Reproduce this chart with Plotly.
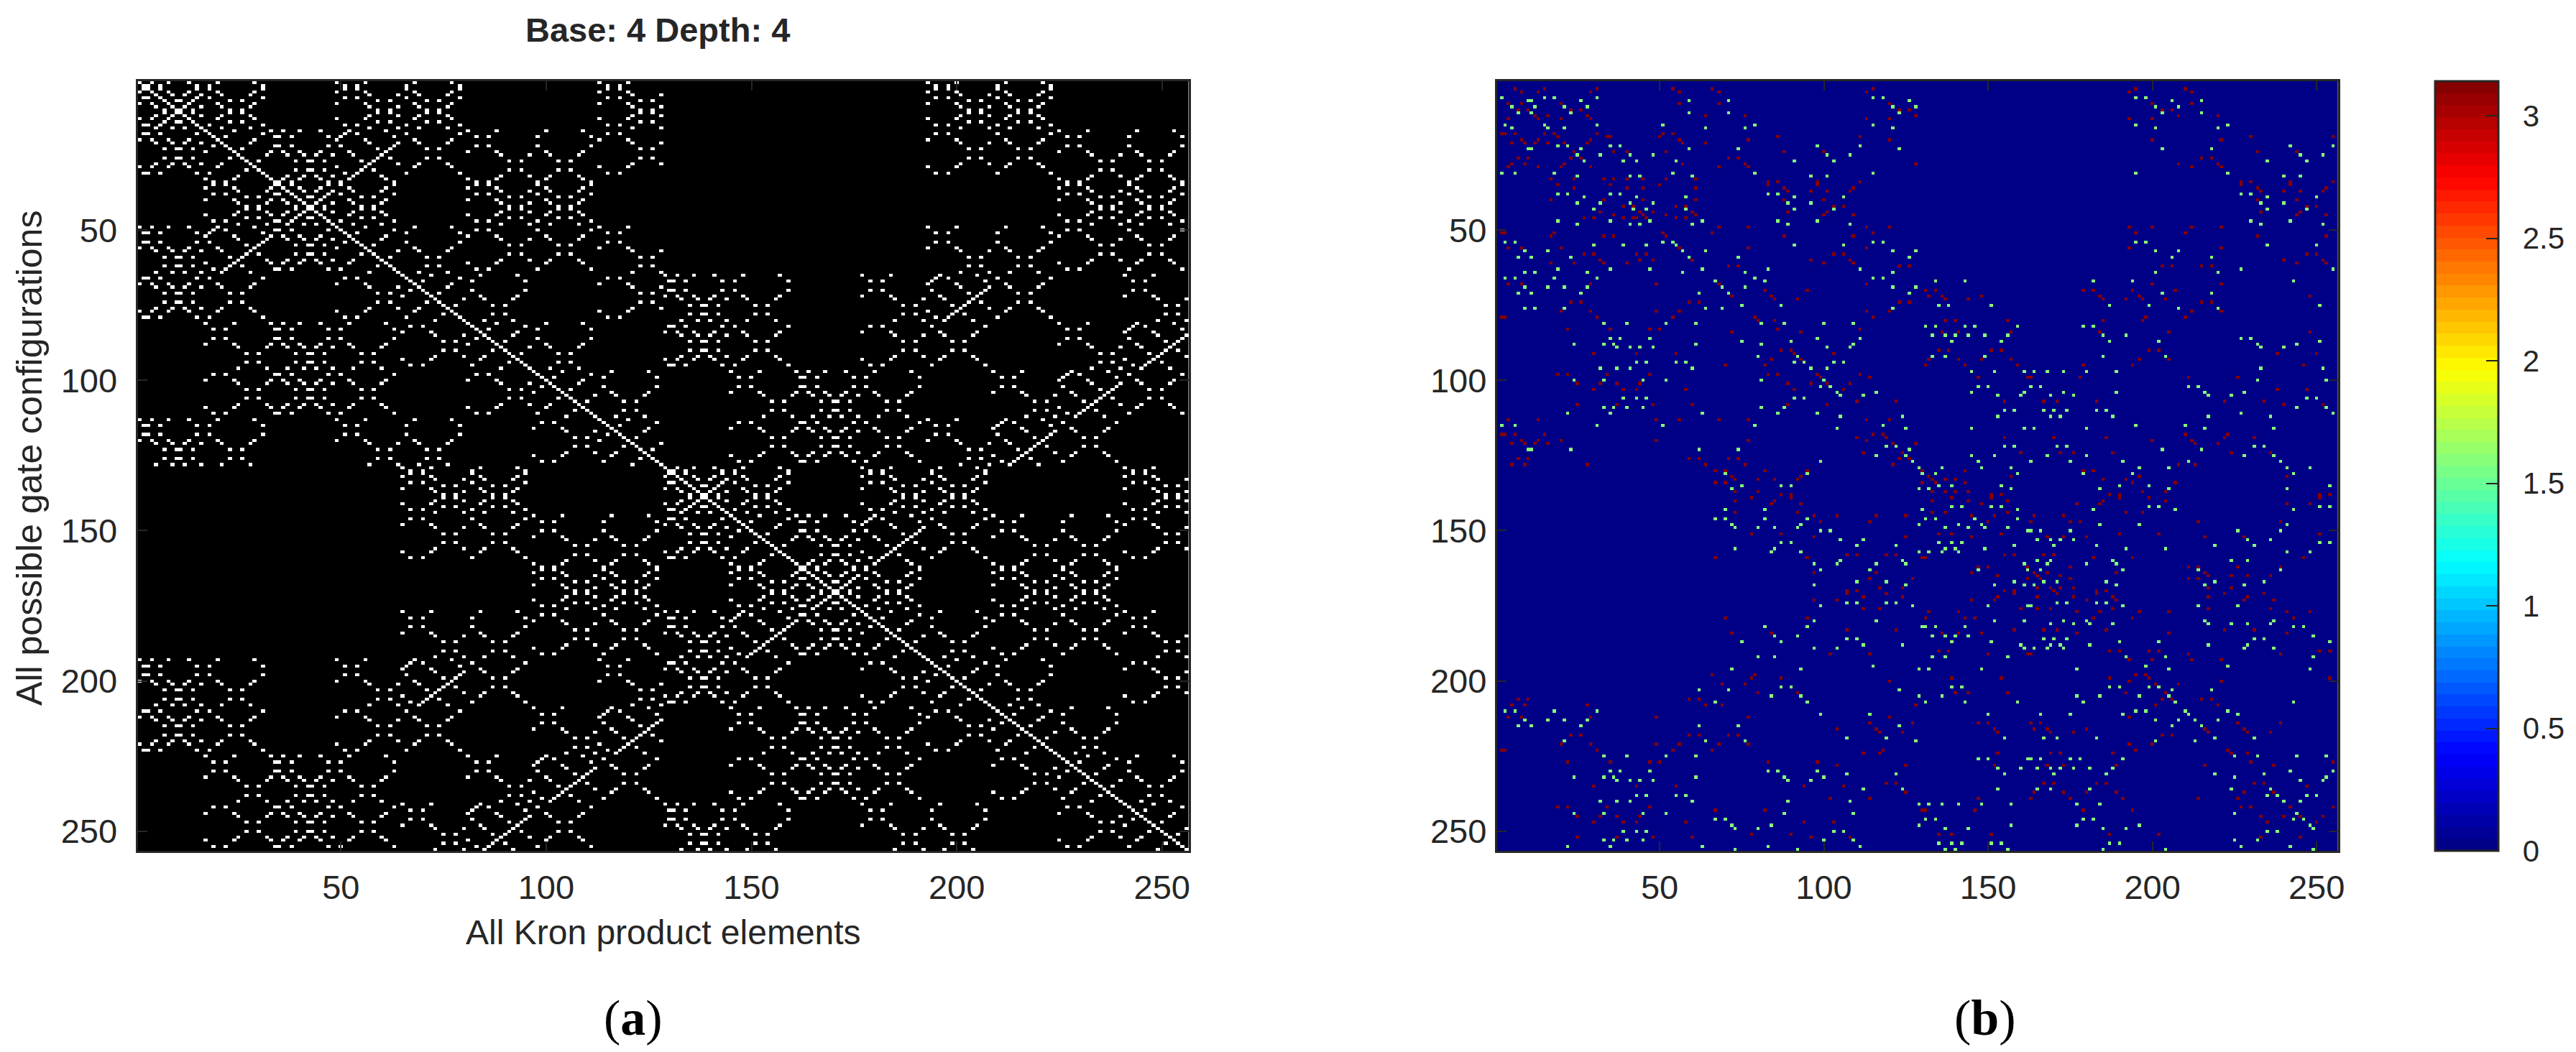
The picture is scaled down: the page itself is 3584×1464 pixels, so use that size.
import math
import plotly.graph_objects as go

# ---- Panel (a): non-zero columns, one list per kind of row
cols_p = [1,4,8,13,20,29,49,56,68,77,113,120,193,200,212,221]
cols_q = [2,3,6,15,18,31,51,54,66,79,115,118,195,198,210,223]
cols_s = [5,9,12,16,21,28,57,64,69,76,121,128,201,208,213,220]
cols_t = [7,10,11,14,23,26,59,62,71,74,123,126,203,206,215,218]
cols_w = [17,24,33,36,40,45,52,61,81,88,100,109,225,232,244,253]
cols_x = [19,22,34,35,38,47,50,63,83,86,98,111,227,230,242,255]
cols_y = [25,32,37,41,44,48,53,60,89,96,101,108,233,240,245,252]
cols_z = [27,30,39,42,43,46,55,58,91,94,103,106,235,238,247,250]
cols_a = [65,72,84,93,129,132,136,141,148,157,177,184,196,205,241,248]
cols_b = [67,70,82,95,130,131,134,143,146,159,179,182,194,207,243,246]
cols_c = [73,80,85,92,133,137,140,144,149,156,185,192,197,204,249,256]
cols_d = [75,78,87,90,135,138,139,142,151,154,187,190,199,202,251,254]
cols_e = [97,104,116,125,145,152,161,164,168,173,180,189,209,216,228,237]
cols_f = [99,102,114,127,147,150,162,163,166,175,178,191,211,214,226,239]
cols_g = [105,112,117,124,153,160,165,169,172,176,181,188,217,224,229,236]
cols_h = [107,110,119,122,155,158,167,170,171,174,183,186,219,222,231,234]
row_kinds = [
    "pqqpsqtpsttsptqs", "wqxpsxtwytzspzqy", "wxxwyxzwyzzywzxy", "pxqwyqzpsztywtxs",
    "aqbpsbtactdspdqc", "wbxacxdwydzcazby", "exfwyfzegzhywhxg", "pfqegqhpshtgetfs",
    "abbacbdacddcadbc", "ebfacfdegdhcahbg", "effegfheghhgehfg", "afbegbhachdgedfc",
    "pbqacqdpsdtcatbs", "eqfpsftegthsphqg", "wfxegxhwyhzgezfy", "axbwybzaczdywdxc",
]

# ---- Panel (b): (row, columns) holding each of the two phase values
green_top = [
 (6,[2,15,18,31,115,118,195,198]),(7,[10,11,26,59,71,126,206,215]),(9,[5,12,21,28,121,128,201,208]),
 (11,[7,11,23,59,71,123,203,215]),(15,[3,15,31,51,79,115,195,223]),(16,[5,16,21,64,76,121,201,220]),
 (22,[19,22,35,38,98,111,242,255]),(23,[10,11,26,59,74,123,203,218]),(25,[25,32,41,48,101,108,245,252]),
 (27,[27,39,43,55,91,103,235,247]),(31,[2,6,18,54,79,115,195,223]),(32,[25,41,44,60,96,101,240,245]),
 (38,[19,22,35,38,83,86,227,230]),(39,[27,43,58,91,106,235,250]),(41,[25,32,41,48,89,96,233,240]),
 (43,[30,42,46,58,91,103,235,247]),(47,[19,35,47,63,86,98,230,242]),(48,[25,41,44,60,89,108,233,252]),
 (54,[3,6,51,54,115,118,195,198]),(55,[30,39,46,55,91,106,235,250]),(57,[9,16,57,64,121,128,201,208]),
 (59,[7,11,23,59,74,126,206,218]),(63,[19,35,47,63,83,111,227,255]),(64,[9,12,28,57,76,121,201,220]),
 (66,[3,6,18,31,79,115,118]),(67,[67,82,134,143,182,194,243]),(69,[9,16,21,28,69,76,121,128]),
 (71,[7,11,26,62,71,126,203,218]),(75,[75,87,135,138,151,187,199,251]),(76,[9,12,21,64,69,121,208,220]),
 (81,[33,40,52,61,81,88,100,109]),(82,[131,134,143,146,159,179,182]),(85,[133,137,140,144,149,156,185,192]),
 (86,[35,38,47,98,111,227,230]),(87,[75,90,139,154,187,202,251]),(88,[24,33,36,61,81,109,232,244]),
 (89,[37,41,44,48,101,108,233,240]),(92,[80,92,133,137,149,185,204]),(94,[43,46,55,58,91,94,103,106]),
 (96,[32,37,41,60,96,101,233,252]),(97,[145,152,161,164,168,173,180,189]),(100,[24,33,45,52,81,100,232,253]),
 (102,[99,102,147,150,163,166,211,214]),(104,[104,116,145,161,173,189,216,228]),(105,[105,112,153,160,169,176,217,224]),
 (106,[39,43,46,91,94,247,250]),(109,[33,36,40,45,81,88,244,253]),(110,[155,158,167,170,174,183,186]),
 (111,[22,35,63,86,98,227,255]),(112,[105,124,153,169,172,188,217,236]),(115,[2,6,31,51,79,118,195,210]),
 (116,[104,125,145,161,164,180,216,237]),(122,[119,122,155,158,171,174,231,234]),(123,[10,11,23,62,74,126,203,215]),
 (125,[116,125,145,152,168,180,228,237]),(127,[99,127,147,163,175,191,211,239]),
]
green_bottom = [
 (129,[129,136,148,157,196,205,241,248]),(131,[70,95,130,134,159,179,194,243]),(135,[75,87,90,135,139,154,190,199,254]),
 (136,[72,129,132,157,184,205,241]),(142,[139,142,151,154,199,202,251,254]),(143,[70,82,130,159,182,207,243]),
 (146,[67,70,82,95,131,134,146,159]),(148,[72,93,129,141,148,184,196,241]),(149,[73,80,85,92,137,144,149,156]),
 (150,[99,102,162,163,166,175,226,239]),(153,[105,112,165,169,172,176,229,236]),(154,[87,90,135,139,142,251,254]),
 (155,[110,122,158,170,183,219,231]),(156,[73,85,137,140,149,192,204]),(157,[84,93,129,132,136,141,241,248]),
 (160,[105,124,165,169,188,224,229]),(161,[97,104,116,125,161,168,180,189]),(163,[99,114,147,162,166,191,214,239]),
 (167,[110,119,158,167,171,186,219,234]),(168,[97,125,152,161,164,189,216,228]),(174,[107,110,119,122,171,174,183,186]),
 (175,[99,127,150,162,163,191,214,226]),(180,[97,116,152,161,173,180,216,237]),(181,[169,176,181,188,217,224,229,236]),
 (182,[82,95,130,131,134,143,243,246]),(185,[85,92,133,137,140,144,249]),(186,[107,110,167,170,174,231,234]),
 (187,[75,87,139,151,190,202,254]),(188,[112,124,160,169,172,181,217,229]),(189,[97,104,161,164,168,173,228,237]),
 (192,[80,85,133,137,156,192,204,249]),(195,[115,198,223]),(196,[72,93,129,132,148,177,205,248]),
 (202,[87,90,139,142,187,190,199,202]),(203,[62,71,123,206,218]),(205,[84,93,129,136,177,184,196,205]),
 (207,[67,95,131,143,159,179,207,243]),(210,[3,6,18,31,195,198,210,223]),(211,[99,114,150,166,175,191,211,226]),
 (213,[9,16,21,28,201,208,213,220]),(215,[7,11,26,62,74,123,206,215]),(219,[107,119,155,167,171,183,219,231]),
 (220,[21,64,76,128,201,213]),(225,[33,40,52,61,225,232,244,253]),(226,[147,150,162,163,166,175,178,191]),
 (229,[153,160,165,169,172,176,181,188]),(230,[35,38,47,83,86,98,242,255]),(231,[107,122,155,170,186,219,234]),
 (232,[24,33,36,61,88,100,225,253]),(233,[37,41,44,48,89,96,245,252]),(236,[112,124,153,165,169,181,224,236]),
 (238,[43,46,55,58,235,238,247,250]),(240,[32,37,41,60,89,108,240,245]),(241,[129,132,136,141,148,157,177,184]),
 (244,[24,33,45,52,88,109,225,244]),(246,[67,70,131,134,179,182,243,246]),(248,[72,84,129,157,177,196,248]),
 (249,[73,80,137,144,185,192,249]),(250,[39,43,46,103,106,235,238]),(253,[33,36,40,45,100,109,225,232]),
 (254,[135,139,142,151,154,187,190]),(255,[22,35,63,83,111,227,242]),(256,[73,92,137,140,156,185,204,249]),
]
red_top = [
 (3,[6,15,31,54,66,115,195,210]),(4,[8,13,29,56,68,113,193,212]),(8,[4,8,20,56,68,120,200,212]),
 (10,[7,10,23,26,123,126,203,206]),(12,[12,16,28,64,76,128,208,220]),(13,[4,13,20,29,113,120,193,200]),
 (18,[2,3,6,15,18,31,51,54]),(19,[19,34,35,50,86,111,230,255]),(20,[8,13,29,56,77,120,200,221]),
 (21,[5,9,12,16,21,28,57,64]),(24,[24,36,40,52,88,100,232,244]),(26,[7,10,23,26,71,74,215,218]),
 (28,[5,9,21,57,76,128,208,220]),(29,[4,13,20,29,68,77,212,221]),(33,[17,24,33,36,40,45,52,61]),
 (34,[83,86,98,111,227,230,242,255]),(35,[19,35,50,83,98,227,242]),(36,[24,40,45,61,88,109,232,253]),
 (37,[89,96,101,108,233,240,245,252]),(40,[17,33,45,61,88,100,232,244]),(42,[39,42,55,58,103,106,247,250]),
 (44,[32,44,48,60,89,101,233,245]),(45,[36,45,52,61,100,109,244,253]),(46,[27,30,39,42,43,46,55,58]),
 (49,[68,77,113,120,193,200,212,221]),(51,[2,3,18,51,66,115,195,210]),(52,[17,33,36,52,88,109,232,253]),
 (56,[4,8,20,56,77,113,193,221]),(58,[27,30,43,46,103,106,247,250]),(60,[32,44,48,60,96,108,240,252]),
 (61,[17,24,33,40,100,109,244,253]),(62,[71,74,123,126,203,206,215,218]),(68,[4,8,29,49,68,113,200,221]),
 (70,[82,95,131,134,179,182,194,207]),(72,[72,84,132,136,148,184,196,248]),(73,[85,92,137,144,185,192,197,204]),
 (74,[23,26,59,62,123,126,215,218]),(77,[20,29,49,56,113,120,212,221]),(79,[2,3,31,54,79,115,198,210]),
 (80,[80,85,137,140,156,185,197]),(83,[22,35,47,50,86,111]),(84,[72,93,136,141,157,184,205,248]),
 (90,[87,90,135,138,151,154,199,202]),(91,[30,43,55,91,103,238,250]),(93,[84,93,132,141,148,157,196,205]),
 (95,[70,82,131,143,159,179,194,246]),(98,[19,22,34,47,83,86,98,111]),(99,[99,114,147,162,163,178,211,226]),
 (101,[25,32,37,44,89,96,101,108]),(103,[30,39,43,58,91,106,238,247]),(107,[110,122,155,167,171,183,222,234]),
 (108,[25,37,48,60,89,101,240,252]),(113,[4,13,49,56,68,77,113,120]),(118,[2,3,6,15,115,118,210,223]),
 (119,[110,119,155,170,186,222,231]),(120,[8,13,20,49,77,113,200,212]),(121,[5,9,12,16,121,128,213,220]),
 (124,[112,124,160,172,176,188,224,236]),(126,[7,10,59,62,71,74,123,126]),(128,[5,9,28,64,76,121,208,213]),
]
red_bottom = [
 (130,[67,70,82,95,130,143,179,182]),(132,[72,93,132,157,196,241]),(133,[73,80,85,92,133,137,140,185,192]),
 (134,[67,70,130,134,143,194,207]),(137,[73,80,133,137,140,144,197,204]),(138,[90,87,151,154,187,190,251,254]),
 (139,[78,90,139,151,190,199,251]),(140,[73,85,133,144,156,185,204]),(141,[84,93,148,177,184,241,248]),
 (144,[73,92,133,137,156,192,197]),(145,[97,104,116,125,145,152,164,173]),(147,[99,114,150,163,175,178,214,239]),
 (151,[78,87,135,139,154,190,202,251]),(152,[97,125,145,168,173,180,216,228]),(158,[107,110,119,122,155,158,167,170]),
 (159,[67,95,130,131,182,194,246]),(162,[147,150,162,175,211,214,226,239]),(164,[97,116,145,164,168,189,216]),
 (165,[153,165,172,217,224,229,236]),(166,[114,127,162,166,175,211,214]),(169,[117,124,165,169,172,176,217,224]),
 (170,[107,110,155,158,170,183,186]),(171,[107,119,158,171,183,222,234]),(172,[112,124,153,165,176,188,217,229]),
 (173,[97,104,145,152,180,189,228,237]),(176,[112,117,160,165,169,188,217,236]),(177,[132,141,177,184,196,205,241,248]),
 (179,[70,95,131,143,146,182,194,243]),(183,[107,122,158,167,171,186,222,231]),(184,[72,84,136,141,148,177,205,241]),
 (190,[135,138,187,190,199,202,251,254]),(191,[102,114,150,162,163,211,239]),(193,[193,200,212,221]),
 (198,[66,79,195,198]),(199,[78,87,139,154,187,199,254]),(200,[120,193,221]),(201,[69,76,201,208]),
 (204,[80,92,140,144,156,192,204]),(206,[7,10,59,62,203,206,215,218]),(208,[5,9,28,64,69,128,201,220]),
 (212,[4,8,29,49,77,120,193]),(214,[114,127,147,150,163,166,226,239]),(216,[104,116,152,164,168,180,216,228]),
 (217,[117,124,153,169,176,217,229,236]),(218,[23,26,59,62,71,74,203,206]),(221,[20,29,49,56,68,77,193,200]),
 (223,[2,3,31,54,66,118,195,223]),(224,[112,117,153,169,172,188,224,229]),(227,[22,35,47,50,83,98,230,255]),
 (228,[104,125,152,168,173,189,216,237]),(234,[119,122,167,170,183,186,231,234]),(235,[30,43,55,94,106,247]),
 (237,[125,164,173,180,189,228,237]),(239,[102,114,147,163,175,191,214,226]),(242,[19,22,34,47,227,230,242,255]),
 (243,[67,82,130,131,146,179,194]),(245,[25,32,37,44,233,240,245,252]),(247,[30,39,43,58,94,103,235,250]),
 (251,[78,90,135,139,151,187,202]),(252,[25,37,48,60,96,108,233,245]),
]
phase_green = math.pi / 2
phase_red = math.pi

tick_vals = [50, 100, 150, 200, 250]

# ---- Build matrices
kinds = dict(p=cols_p, q=cols_q, s=cols_s, t=cols_t, w=cols_w, x=cols_x, y=cols_y, z=cols_z,
             a=cols_a, b=cols_b, c=cols_c, d=cols_d, e=cols_e, f=cols_f, g=cols_g, h=cols_h)
row_list = [kinds[ch] for block in row_kinds for ch in block]
N = len(row_list)
axis_vals = list(range(1, N + 1))
mask = [[0] * N for _ in range(N)]
phase = [[0.0] * N for _ in range(N)]
for r, cols in enumerate(row_list):
    for c in cols:
        mask[r][c - 1] = 1

def place(rows, value):
    for row, cols in rows:
        allowed = row_list[row - 1]
        for c in cols:
            # panel (b) can only be set where panel (a) is white: correct reading slips
            nearest = min(allowed, key=lambda v: abs(v - c))
            phase[row - 1][nearest - 1] = value

place(green_top, phase_green); place(green_bottom, phase_green)
place(red_top, phase_red); place(red_bottom, phase_red)

# ---- Matlab-style 64-step jet
def jet(t):
    ch = lambda o: max(0.0, min(1.0, 1.5 - abs(4 * t - o)))
    return "rgb(%d,%d,%d)" % tuple(round(255 * ch(o)) for o in (3, 2, 1))
jet_scale = []
for i in range(64):
    col = jet((i + 0.5) / 64)
    jet_scale += [[i / 64, col], [(i + 1) / 64, col]]

# ---- Layout in pixels of the page; the page body adds an 8px margin
W, H = 3584, 1464
OFF = 8
AX_TOP, AX_BOT = 113, 1184
A_L, A_R = 192, 1658
B_L, B_R = 2088, 3261
INK = "#262626"
FONT = "Liberation Sans"
px = lambda v: (v - OFF) / W
py = lambda v: 1 - (v - OFF) / H

fig = go.Figure()
fig.add_trace(go.Heatmap(z=mask, x=axis_vals, y=axis_vals, xaxis="x", yaxis="y", zmin=0, zmax=1,
                         colorscale=[[0, "#000000"], [1, "#ffffff"]], showscale=False, hoverinfo="skip"))
fig.add_trace(go.Heatmap(z=phase, x=axis_vals, y=axis_vals, xaxis="x2", yaxis="y2", zmin=0, zmax=math.pi,
                         colorscale=jet_scale, hoverinfo="skip",
                         colorbar=dict(x=px(3397), xanchor="left", xpad=0, ypad=0,
                                       y=py(AX_BOT), yanchor="bottom", len=(AX_BOT - AX_TOP) / H, lenmode="fraction",
                                       thickness=88, thicknessmode="pixels", outlinecolor=INK, outlinewidth=3,
                                       tickmode="linear", tick0=0, dtick=0.5, tickprefix="\u00a0\u00a0",
                                       ticks="inside", ticklen=18, tickwidth=2, tickcolor=INK,
                                       tickfont=dict(family=FONT, size=42, color=INK))))

def axis(domain, standoff=None, **kw):
    d = dict(domain=domain, showgrid=False, zeroline=False, showline=True, linecolor=INK, linewidth=3,
             mirror="allticks", ticks="inside", ticklen=13, tickwidth=2, tickcolor=INK,
             tickmode="array", tickvals=tick_vals, ticktext=[str(v) for v in tick_vals],
             tickfont=dict(family=FONT, size=47, color=INK), **kw)
    if standoff is not None:
        d["ticklabelstandoff"] = standoff
    return d

y_dom = [py(AX_BOT), py(AX_TOP)]
fig.update_layout(
    width=W, height=H, margin=dict(l=0, r=0, t=0, b=0), paper_bgcolor="white", plot_bgcolor="white",
    xaxis=axis([px(A_L), px(A_R)], standoff=8, range=[0.5, 256.5], anchor="y"),
    yaxis=axis(y_dom, standoff=16, range=[256.5, 0.5], anchor="x"),
    xaxis2=axis([px(B_L), px(B_R)], standoff=8, range=[0.5, 256.5], anchor="y2"),
    yaxis2=axis(y_dom, standoff=2, range=[256.5, 0.5], anchor="x2"),
    annotations=[
        dict(text="<b>Base: 4 Depth: 4</b>", x=px(917), y=py(41), xref="paper", yref="paper", showarrow=False,
             xanchor="center", yanchor="middle", font=dict(family=FONT, size=47, color=INK)),
        dict(text="All Kron product elements", x=px(925), y=py(1297), xref="paper", yref="paper", showarrow=False,
             xanchor="center", yanchor="middle", font=dict(family=FONT, size=48, color=INK)),
        dict(text="All possible gate configurations", x=px(41), y=py(637), xref="paper", yref="paper", showarrow=False,
             textangle=-90, xanchor="center", yanchor="middle", font=dict(family=FONT, size=50, color=INK)),
        dict(text="(<b>a</b>)", x=px(883), y=py(1416), xref="paper", yref="paper", showarrow=False,
             xanchor="center", yanchor="middle", font=dict(family="Liberation Serif", size=70, color="#000000")),
        dict(text="(<b>b</b>)", x=px(2769), y=py(1416), xref="paper", yref="paper", showarrow=False,
             xanchor="center", yanchor="middle", font=dict(family="Liberation Serif", size=70, color="#000000")),
    ],
)
fig.write_html("out.html")
